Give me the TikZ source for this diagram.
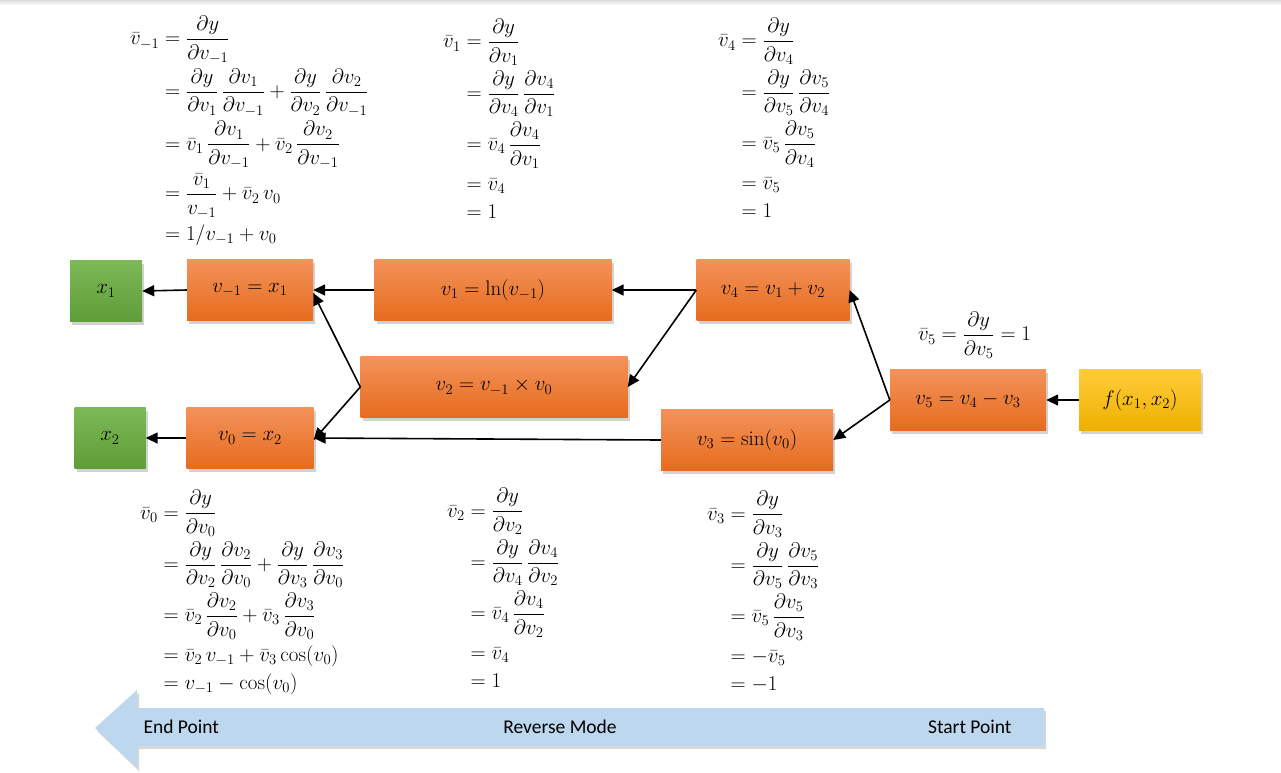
\RequirePackage{fix-cm}
\documentclass[tikz,border=0pt]{standalone}
\usepackage{amsmath}
\usepackage{fontspec}
\newfontfamily\calib{Carlito}
\usetikzlibrary{shadows,arrows.meta}
\definecolor{oTop}{HTML}{F3925A}
\definecolor{oBot}{HTML}{E66C1E}
\definecolor{gTop}{HTML}{7DB957}
\definecolor{gBot}{HTML}{5E9D37}
\definecolor{yTop}{HTML}{FFCC3A}
\definecolor{yBot}{HTML}{EEB000}
\definecolor{arrBlue}{HTML}{BDD7EE}
\setlength{\jot}{4pt}
\newcommand{\pd}[2]{\dfrac{\partial #1}{\partial #2}}
\begin{document}
\begin{tikzpicture}[x=1pt,y=-1pt,
  box/.style={minimum height=61pt, inner sep=0pt, font=\fontsize{21}{24}\selectfont,
    drop shadow={shadow xshift=2pt,shadow yshift=-3pt,opacity=0.35}},
  obox/.style={box, top color=oTop, bottom color=oBot},
  gbox/.style={box, top color=gTop, bottom color=gBot},
  ybox/.style={box, top color=yTop, bottom color=yBot},
  arr/.style={line width=1.6pt, -{Triangle[length=12pt,width=11pt]}},
  mathblk/.style={anchor=north west, inner sep=0pt, font=\fontsize{21}{24}\selectfont},
  lbl/.style={font=\calib\fontsize{19.5}{22}\selectfont}
]
\useasboundingbox (0,0) rectangle (1281,772);
\fill[white] (0,0) rectangle (1281,772);
\shade[top color=black!14, bottom color=white] (0,0) rectangle (1281,5);

% boxes
\node[gbox, minimum width=72pt] (x1) at (106,291) {$x_1$};
\node[gbox, minimum width=71pt] (x2) at (110,438) {$x_2$};
\node[obox, minimum width=126pt] (vm1) at (250,290) {$v_{-1} = x_1$};
\node[obox, minimum width=127pt] (v0) at (250,438) {$v_0 = x_2$};
\node[obox, minimum width=237pt] (v1) at (493,290) {$v_1 = \ln(v_{-1})$};
\node[obox, minimum width=267pt] (v2) at (494,387) {$v_2 = v_{-1}\times v_0$};
\node[obox, minimum width=153pt] (v4) at (773,290) {$v_4 = v_1 + v_2$};
\node[obox, minimum width=172pt] (v3) at (747,440) {$v_3 = \sin(v_0)$};
\node[obox, minimum width=156pt] (v5) at (968,400) {$v_5 = v_4 - v_3$};
\node[ybox, minimum width=122pt] (f) at (1140,400) {$f(x_1,x_2)$};

% connectors
\draw[arr] (vm1.west) -- (x1.east);
\draw[arr] (v0.west) -- (x2.east);
\draw[arr] (v1.west) -- (vm1.east);
\draw[arr] (v2.west) -- ([yshift=-3pt]vm1.east);
\draw[arr] (v2.west) -- ([yshift=-2pt]v0.east);
\draw[arr] (v4.west) -- (v1.east);
\draw[arr] (v4.west) -- (v2.east);
\draw[arr] (v3.west) -- (v0.east);
\draw[arr] (v5.west) -- (v4.east);
\draw[arr] (v5.west) -- (v3.east);
\draw[arr] (f.west) -- (v5.east);

% math blocks
\node[mathblk] (mA) at (130,16) {$\begin{aligned}
\bar v_{-1} &= \pd{y}{v_{-1}}\\
&= \pd{y}{v_1}\,\pd{v_1}{v_{-1}} + \pd{y}{v_2}\,\pd{v_2}{v_{-1}}\\
&= \bar v_1\,\pd{v_1}{v_{-1}} + \bar v_2\,\pd{v_2}{v_{-1}}\\
&= \dfrac{\bar v_1}{v_{-1}} + \bar v_2\, v_0\\
&= 1/v_{-1} + v_0
\end{aligned}$};
\node[mathblk] (mB) at (443,19) {$\begin{aligned}
\bar v_1 &= \pd{y}{v_1}\\
&= \pd{y}{v_4}\,\pd{v_4}{v_1}\\
&= \bar v_4\,\pd{v_4}{v_1}\\
&= \bar v_4\\
&= 1
\end{aligned}$};
\node[mathblk] (mC) at (718,18) {$\begin{aligned}
\bar v_4 &= \pd{y}{v_4}\\
&= \pd{y}{v_5}\,\pd{v_5}{v_4}\\
&= \bar v_5\,\pd{v_5}{v_4}\\
&= \bar v_5\\
&= 1
\end{aligned}$};
\node[mathblk] (m5) at (918,312) {$\bar v_5 = \pd{y}{v_5} = 1$};
\node[mathblk] (mD) at (140,490) {$\begin{aligned}
\bar v_0 &= \pd{y}{v_0}\\
&= \pd{y}{v_2}\,\pd{v_2}{v_0} + \pd{y}{v_3}\,\pd{v_3}{v_0}\\
&= \bar v_2\,\pd{v_2}{v_0} + \bar v_3\,\pd{v_3}{v_0}\\
&= \bar v_2\, v_{-1} + \bar v_3\cos(v_0)\\
&= v_{-1} - \cos(v_0)
\end{aligned}$};
\node[mathblk] (mE) at (447,488) {$\begin{aligned}
\bar v_2 &= \pd{y}{v_2}\\
&= \pd{y}{v_4}\,\pd{v_4}{v_2}\\
&= \bar v_4\,\pd{v_4}{v_2}\\
&= \bar v_4\\
&= 1
\end{aligned}$};
\node[mathblk] (mF) at (707,491) {$\begin{aligned}
\bar v_3 &= \pd{y}{v_3}\\
&= \pd{y}{v_5}\,\pd{v_5}{v_3}\\
&= \bar v_5\,\pd{v_5}{v_3}\\
&= -\bar v_5\\
&= -1
\end{aligned}$};

% big arrow
\fill[arrBlue, drop shadow={shadow xshift=2pt,shadow yshift=-3pt,opacity=0.3}]
  (95,728) -- (137,690) -- (137,708) -- (1044,708) -- (1044,746) -- (137,746) -- (137,768) -- cycle;
\node[lbl, anchor=west] (ep) at (140,727) {End Point};
\node[lbl] (rm) at (560,727) {Reverse Mode};
\node[lbl, anchor=east] (sp) at (1015,727) {Start Point};
\end{tikzpicture}
\end{document}
